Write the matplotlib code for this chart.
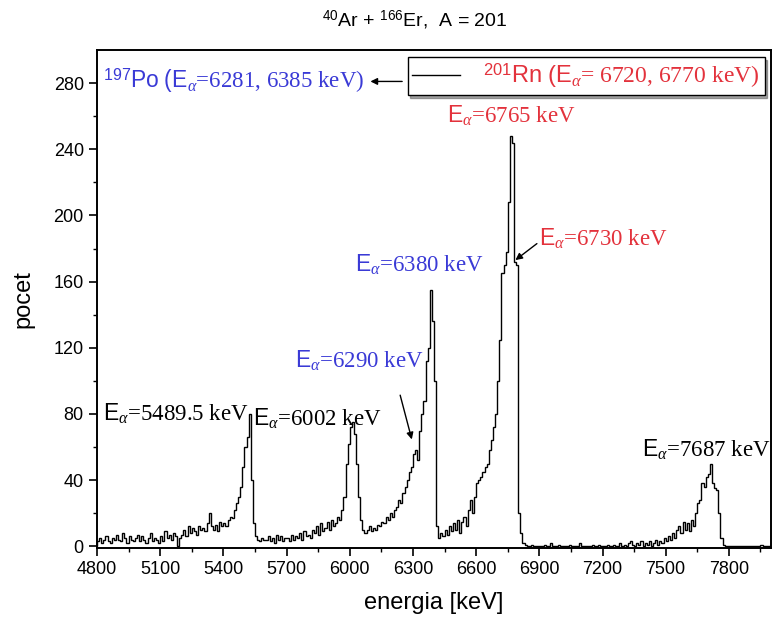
import matplotlib
matplotlib.use('Agg')
import matplotlib.pyplot as plt
from matplotlib.lines import Line2D
import numpy as np

# ======= DATOS (bins de 10 keV, 4800 - 8000 keV) ======= #

E_MIN = 4800
BIN = 10

counts = [
    3, 5, 2, 4, 6, 3, 2, 5, 4, 7,            # 4800
    4, 3, 8, 5, 2, 6, 4, 3, 5, 7,            # 4900
    3, 6, 4, 2, 5, 8, 3, 5, 4, 2,            # 5000
    6, 3, 9, 5, 7, 4, 8, 6, 0, 5,            # 5100
    7, 10, 6, 12, 8, 11, 9, 7, 12, 10,       # 5200
    11, 9, 14, 20, 12, 10, 13, 9, 15, 12,    # 5300
    14, 12, 16, 18, 17, 22, 26, 30, 36, 48,  # 5400
    60, 66, 80, 40, 14, 6, 4, 3, 5, 4,       # 5500
    4, 6, 3, 5, 2, 7, 4, 6, 3, 5,            # 5600
    5, 3, 7, 4, 6, 5, 8, 4, 9, 6,            # 5700
    7, 5, 10, 8, 12, 7, 14, 9, 11, 15,       # 5800
    10, 16, 12, 14, 18, 16, 22, 30, 50, 62,  # 5900
    72, 75, 68, 50, 30, 16, 10, 8, 10, 12,   # 6000
    9, 11, 10, 13, 12, 15, 14, 18, 16, 20,   # 6100
    18, 22, 24, 28, 26, 32, 36, 40, 45, 48,  # 6200
    56, 58, 52, 70, 80, 88, 112, 120, 155, 136,  # 6300
    100, 12, 5, 8, 6, 10, 7, 12, 9, 14,      # 6400
    10, 16, 8, 15, 18, 12, 22, 28, 20, 30,   # 6500
    38, 40, 42, 45, 48, 50, 58, 64, 72, 80,  # 6600
    100, 125, 165, 170, 178, 208, 248, 244, 172, 170,  # 6700
    20, 8, 2, 1, 0, 0, 1, 0, 0, 0,           # 6800
    0, 0, 1, 0, 0, 2, 0, 0, 0, 1,            # 6900
    0, 0, 0, 0, 1, 0, 0, 0, 0, 2,            # 7000
    0, 0, 0, 0, 0, 1, 0, 0, 1, 0,            # 7100
    0, 0, 1, 0, 0, 1, 0, 0, 2, 0,            # 7200
    1, 0, 2, 3, 1, 0, 2, 1, 3, 0,            # 7300
    2, 1, 3, 0, 2, 4, 1, 3, 2, 5,            # 7400
    3, 6, 4, 8, 5, 10, 12, 8, 15, 10,        # 7500
    14, 9, 16, 12, 20, 26, 28, 38, 36, 42,   # 7600
    44, 50, 38, 35, 34, 20, 5, 1, 0, 0,      # 7700
    0, 0, 0, 0, 0, 0, 0, 0, 0, 0,            # 7800
    0, 0, 0, 0, 0, 1, 0, 0, 0, 0,            # 7900
]

edges = E_MIN + BIN * np.arange(len(counts) + 1)

x_ticks = [4800, 5100, 5400, 5700, 6000, 6300, 6600, 6900, 7200, 7500, 7800]
y_ticks = [0, 40, 80, 120, 160, 200, 240, 280]

BLUE = '#3a3ad6'
RED = '#e3323c'

# ======= ESTILO ======= #

plt.rcParams['font.family'] = ['Liberation Sans', 'DejaVu Sans']
plt.rcParams['mathtext.fontset'] = 'custom'
plt.rcParams['mathtext.rm'] = 'Liberation Serif'
plt.rcParams['mathtext.sf'] = 'Liberation Sans'
plt.rcParams['mathtext.it'] = 'Liberation Serif:italic'

fig = plt.figure(figsize=(7.73, 6.29), dpi=100)
ax = fig.add_axes([97/773, 1 - 548/629, 674/773, 498/629])

ax.stairs(counts, edges, color='black', lw=1.0)

ax.set_xlim(4800, 8000)
ax.set_ylim(-1, 300)
ax.set_xticks(x_ticks)
ax.set_xticks(np.arange(4800, 8001, 150), minor=True)
ax.set_yticks(y_ticks)
ax.set_yticks(np.arange(0, 300, 20), minor=True)
ax.tick_params(which='major', direction='out', length=6, width=1.2, labelsize=13)
ax.tick_params(which='minor', direction='out', length=3, width=1.0)
for s in ax.spines.values():
    s.set_linewidth(1.4)

ax.set_xlabel('energia [keV]', fontsize=17, labelpad=10)
ax.set_ylabel('pocet', fontsize=17, labelpad=14)

fig.text(415/773, 1 - 20/629, r'$^{\mathsf{40}}$Ar + $^{\mathsf{166}}$Er,  A = 201',
         ha='center', va='center', fontsize=14)

# ======= LEYENDA ======= #

h = Line2D([], [], color='black', lw=1.0)
leg = ax.legend([h],
                [r'$^{\mathsf{201}}\mathsf{Rn\ (E}_{\alpha}$= 6720, 6770 keV)'],
                loc='upper left', bbox_to_anchor=(0.461, 0.986), borderaxespad=0,
                prop={'family': 'Liberation Serif', 'size': 17},
                frameon=True, fancybox=False, shadow=True,
                handlelength=2.0, handletextpad=1.0, borderpad=0.2)
leg.get_frame().set_edgecolor('black')
leg.get_frame().set_linewidth(1.0)
leg.get_texts()[0].set_color(RED)

# ======= ANOTACIONES ======= #

def lab(e, c, s, color='black'):
    ax.text(e, c, s, color=color, fontsize=16.5, family='Liberation Serif',
            ha='left', va='baseline')

lab(4828, 277, r'$^{\mathsf{197}}\mathsf{Po\ (E}_{\alpha}$=6281, 6385 keV)', BLUE)
ax.annotate('', xy=(6085, 281), xytext=(6262, 281),
            arrowprops=dict(arrowstyle='-|>', color='black', lw=1.0, mutation_scale=10))

lab(4828, 76, r'$\mathsf{E}_{\alpha}$=5489.5 keV')
lab(5539, 73, r'$\mathsf{E}_{\alpha}$=6002 keV')
lab(5738, 108, r'$\mathsf{E}_{\alpha}$=6290 keV', BLUE)
lab(6023, 166, r'$\mathsf{E}_{\alpha}$=6380 keV', BLUE)
lab(6463, 256, r'$\mathsf{E}_{\alpha}$=6765 keV', RED)
lab(6899, 182, r'$\mathsf{E}_{\alpha}$=6730 keV', RED)
lab(7387, 54, r'$\mathsf{E}_{\alpha}$=7687 keV')

ax.annotate('', xy=(6298, 63), xytext=(6236, 93),
            arrowprops=dict(arrowstyle='-|>', color='black', lw=1.0, mutation_scale=10))
ax.annotate('', xy=(6776, 172), xytext=(6899, 184),
            arrowprops=dict(arrowstyle='-|>', color='black', lw=1.0, mutation_scale=10))

fig.savefig('out.png', dpi=100)
